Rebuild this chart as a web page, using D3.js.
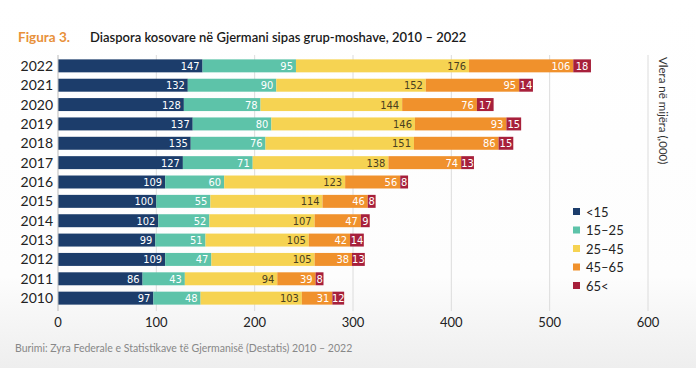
<!DOCTYPE html>
<html><head><meta charset="utf-8">
<script src="https://cdn.jsdelivr.net/npm/d3@7"></script>
<style>
html,body{margin:0;padding:0;background:#fff;}
svg{display:block;}
</style></head>
<body>
<svg id="chart" width="696" height="368"></svg>
<script>
const years = ["2022","2021","2020","2019","2018","2017","2016","2015","2014","2013","2012","2011","2010"];
const under15 = [147,132,128,137,135,127,109,100,102,99,109,86,97];
const age15_25 = [95,90,78,80,76,71,60,55,52,51,47,43,48];
const age25_45 = [176,152,144,146,151,138,123,114,107,105,105,94,103];
const age45_65 = [106,95,76,93,86,74,56,46,47,42,38,39,31];
const over65 = [18,14,17,15,15,13,8,8,9,14,13,8,12];
const groups = ["<15","15–25","25–45","45–65","65<"];
const colors = ["#1c3d6b","#5dc3a9","#f6d352","#f0912c","#a7203b"];
const labelColors = ["#ffffff","#ffffff","#4a4020","#ffffff","#ffffff"];
const xTicks = [0,100,200,300,400,500,600];

const series = [under15, age15_25, age25_45, age45_65, over65];
const svg = d3.select("#chart");

const defs = svg.append("defs");
const grad = defs.append("linearGradient").attr("id","bg").attr("x1",0).attr("y1",0).attr("x2",0).attr("y2",1);
grad.append("stop").attr("offset","0%").attr("stop-color","#ffffff");
grad.append("stop").attr("offset","75%").attr("stop-color","#fdfdfd");
grad.append("stop").attr("offset","100%").attr("stop-color","#eeeeee");
svg.append("rect").attr("width",696).attr("height",368).attr("fill","url(#bg)");

const x = d3.scaleLinear().domain([0,600]).range([58,648]);
const y = d3.scaleBand().domain(years).range([55.5,308.5]).paddingInner(0.33).paddingOuter(0.2);

svg.append("text").attr("x",18).attr("y",42).attr("font-family","Lato, 'Open Sans', sans-serif")
  .attr("font-size",13.5).attr("font-weight",700).attr("fill","#e8913a").text("Figura 3.");
svg.append("text").attr("x",90).attr("y",42).attr("font-family","Lato, 'Open Sans', sans-serif")
  .attr("font-size",13).attr("font-weight",600).attr("fill","#1a1a1a").text("Diaspora kosovare në Gjermani sipas grup-moshave, 2010 – 2022");

svg.append("g").selectAll("line").data(xTicks.slice(1)).join("line")
  .attr("x1",d=>x(d)).attr("x2",d=>x(d)).attr("y1",55).attr("y2",311)
  .attr("stroke","#dcdcdc").attr("stroke-width",1);

const rows = years.map((yr,i)=>{
  let acc=0; const segs=[];
  series.forEach((s,k)=>{ segs.push({k, x0:acc, x1:acc+s[i], v:s[i], yr}); acc+=s[i]; });
  return segs;
});

const gBars = svg.append("g");
rows.forEach(segs=>{
  gBars.selectAll(null).data(segs).join("rect")
    .attr("x",d=>x(d.x0)).attr("width",d=>x(d.x1)-x(d.x0))
    .attr("y",d=>y(d.yr)).attr("height",y.bandwidth())
    .attr("fill",d=>colors[d.k]);
  gBars.selectAll(null).data(segs).join("text")
    .attr("x",d=> d.k===4 ? (x(d.x0)+x(d.x1))/2 : x(d.x1)-3)
    .attr("y",d=>y(d.yr)+y.bandwidth()/2+4)
    .attr("text-anchor",d=> d.k===4 ? "middle" : "end")
    .attr("font-family","'DejaVu Sans Condensed', 'Roboto', sans-serif")
    .attr("font-stretch","condensed")
    .attr("font-size",11)
    .attr("fill",d=>labelColors[d.k])
    .text(d=>d.v);
});

svg.append("line").attr("x1",x(0)).attr("x2",x(0)).attr("y1",55).attr("y2",311)
  .attr("stroke","#bbbbbb").attr("stroke-width",1);

svg.append("g").selectAll("text").data(years).join("text")
  .attr("x",53).attr("y",d=>y(d)+y.bandwidth()/2+5)
  .attr("text-anchor","end").attr("font-family","Lato, 'Open Sans', sans-serif")
  .attr("font-size",14).attr("fill","#222").text(d=>d);

svg.append("g").selectAll("text").data(xTicks).join("text")
  .attr("x",d=>x(d)).attr("y",327).attr("text-anchor","middle")
  .attr("font-family","Lato, 'Open Sans', sans-serif").attr("font-size",13).attr("fill","#222")
  .text(d=>d);

svg.append("text").attr("transform","translate(659,57) rotate(90)")
  .attr("font-family","Lato, 'Open Sans', sans-serif").attr("font-size",11.5).attr("fill","#333")
  .text("Vlera në mijëra (,000)");

const lg = svg.append("g");
groups.forEach((g,i)=>{
  const yy = 212 + i*18.5;
  lg.append("rect").attr("x",573).attr("y",yy-4).attr("width",7).attr("height",7).attr("fill",colors[i]);
  lg.append("text").attr("x",586).attr("y",yy+4.5).attr("font-family","Lato, 'Open Sans', sans-serif")
    .attr("font-size",13).attr("fill","#222").text(g);
});

svg.append("text").attr("x",15).attr("y",352).attr("font-family","Lato, 'Open Sans', sans-serif")
  .attr("font-size",10.5).attr("fill","#888")
  .text("Burimi: Zyra Federale e Statistikave të Gjermanisë (Destatis) 2010 – 2022");
</script>
</body></html>
